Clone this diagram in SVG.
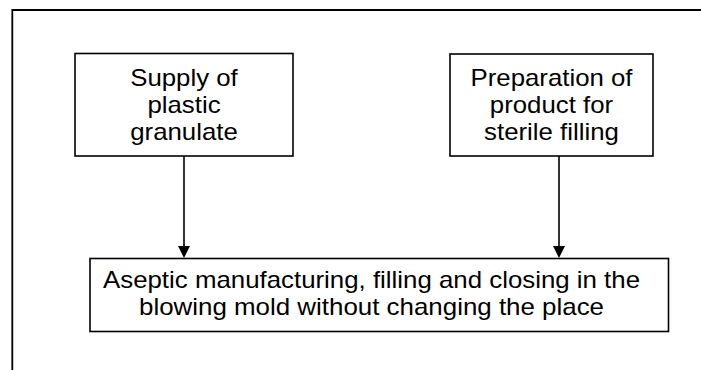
<svg xmlns="http://www.w3.org/2000/svg" width="701" height="370" viewBox="0 0 701 370">
  <style>
    .box { fill: #ffffff; stroke: #000000; stroke-width: 1.6; }
    .frame { fill: none; stroke: #000000; stroke-width: 1.8; }
    .conn { stroke: #000000; stroke-width: 1.6; fill: none; }
    text { font-family: "Liberation Sans", Arial, sans-serif; font-size: 24px; fill: #000000; text-anchor: middle; }
  </style>
  <defs>
    <marker id="arrow" markerUnits="userSpaceOnUse" markerWidth="12" markerHeight="13" refX="6" refY="12" orient="auto-start-reverse" viewBox="0 0 12 13">
      <path d="M0,0 L12,0 L6,12 Z" fill="#000000" transform="rotate(0)"/>
    </marker>
  </defs>
  <rect width="701" height="370" fill="#ffffff"/>
  <path class="frame" d="M12.3,370 L12.3,10 L701,10"/>

  <g id="node-supply">
    <rect class="box" x="75" y="53.5" width="218" height="102.5"/>
    <text x="184" y="86" textLength="107.6" lengthAdjust="spacingAndGlyphs">Supply of</text>
    <text x="184" y="113" textLength="73.1" lengthAdjust="spacingAndGlyphs">plastic</text>
    <text x="184" y="140" textLength="107.6" lengthAdjust="spacingAndGlyphs">granulate</text>
  </g>

  <g id="node-preparation">
    <rect class="box" x="450" y="54" width="203" height="102"/>
    <text x="551.5" y="86" textLength="162" lengthAdjust="spacingAndGlyphs">Preparation of</text>
    <text x="551.5" y="113" textLength="123.3" lengthAdjust="spacingAndGlyphs">product for</text>
    <text x="551.5" y="140" textLength="134.8" lengthAdjust="spacingAndGlyphs">sterile filling</text>
  </g>

  <g id="node-aseptic">
    <rect class="box" x="90" y="258.5" width="578.5" height="73"/>
    <text x="371.5" y="288" textLength="537" lengthAdjust="spacingAndGlyphs">Aseptic manufacturing, filling and closing in the</text>
    <text x="371.5" y="315" textLength="465" lengthAdjust="spacingAndGlyphs">blowing mold without changing the place</text>
  </g>

  <g id="connectors">
    <path d="M184,156 L184,247" class="conn"/>
    <path d="M178,246 L190,246 L184,258 Z" fill="#000000"/>
    <path d="M559,156 L559,247" class="conn"/>
    <path d="M553,246 L565,246 L559,258 Z" fill="#000000"/>
  </g>
</svg>
